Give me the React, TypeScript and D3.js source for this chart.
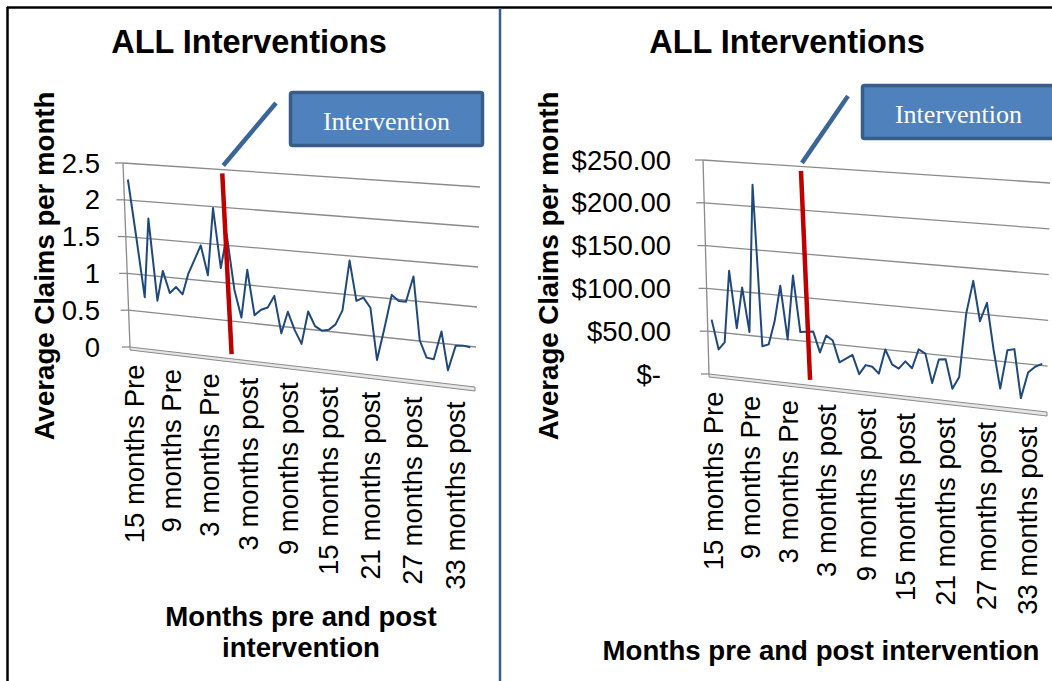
import * as d3 from "d3";

// months relative to the intervention (0 = intervention month)
const months = [
  -15, -14, -13, -12, -11, -10, -9, -8, -7, -6, -5, -4, -3, -2, -1, 0, 1, 2, 3,
  4, 5, 6, 7, 8, 9, 10, 11, 12, 13, 14, 15, 16, 17, 18, 19, 20, 21, 22, 23, 24,
  25, 26, 27, 28, 29, 30, 31, 32, 33, 34, 35,
];

// only every 6th category gets a label
const tickLabels = [
  "15 months Pre",
  "9 months Pre",
  "3 months Pre",
  "3 months post",
  "9 months post",
  "15 months post",
  "21 months post",
  "27 months post",
  "33 months post",
];

const avgClaims = [
  2.28, 1.5, 0.7, 1.77, 0.67, 1.08, 0.79, 0.88, 0.79, 1.08, 1.27, 1.47, 1.08,
  1.98, 1.19, 1.64, 0.92, 0.56, 1.2, 0.61, 0.69, 0.73, 0.89, 0.41, 0.7, 0.47,
  0.3, 0.73, 0.55, 0.5, 0.52, 0.6, 0.79, 1.44, 0.93, 0.98, 0.86, 0.2, 0.61,
  1.05, 0.98, 0.98, 1.31, 0.51, 0.3, 0.29, 0.65, 0.17, 0.49, 0.5, 0.49,
];

const avgCost = [
  64, 30, 39, 123, 57, 105, 54, 225, 39, 42, 69, 111, 50, 124, 60, 61, 62, 39,
  59, 54, 30, 35, 40, 19, 30, 29, 22, 50, 34, 30, 39, 32, 54, 50, 18, 45, 46,
  14, 28, 99, 136, 92, 113, 62, 20, 63, 65, 12, 41, 48, 52,
];

const claimTicks = [0, 0.5, 1, 1.5, 2, 2.5];
const costTicks = [0, 50, 100, 150, 200, 250];

const FONT = "'Liberation Sans', Arial, sans-serif";
const SERIF = "'Liberation Serif', 'Times New Roman', serif";
const GRID = "#8a8a8a";
const LINE = "#1f497d";

type Pt = [number, number];

interface PanelCfg {
  values: number[];
  ticks: number[];
  fmt: (d: number) => string;
  wall: { tl: Pt; tr: Pt; bl: Pt; br: Pt };
  persp: number; // 3d depth: categories get wider towards the right
  tickX: number;
  yTitleX: number;
  titleX: number;
  xTitle: string[];
  xTitleX: number;
  xTitleY: number;
  box: [number, number];
}

const money = d3.format(",.2f");

const panels: PanelCfg[] = [
  {
    values: avgClaims,
    ticks: claimTicks,
    fmt: (d) => String(d),
    wall: { tl: [123, 163], tr: [480, 187], bl: [130, 347], br: [475, 387] },
    persp: -0.08,
    tickX: 100,
    yTitleX: 54,
    titleX: 249,
    xTitle: ["Months pre and post", "intervention"],
    xTitleX: 301,
    xTitleY: 626,
    box: [289, 91],
  },
  {
    values: avgCost,
    ticks: costTicks,
    fmt: (d) => (d === 0 ? "$-" : "$" + money(d)),
    wall: { tl: [703, 160], tr: [1050, 183], bl: [709, 374], br: [1047, 412] },
    persp: -0.06,
    tickX: 671,
    yTitleX: 558,
    titleX: 787,
    xTitle: ["Months pre and post intervention"],
    xTitleX: 821,
    xTitleY: 660,
    box: [861, 84],
  },
];

// bilinear mapping of the back wall: u across, w up, both 0..1
function wallProjector(wall: PanelCfg["wall"]) {
  return (u: number, w: number): Pt => {
    const xl = wall.bl[0] + (wall.tl[0] - wall.bl[0]) * w;
    const yl = wall.bl[1] + (wall.tl[1] - wall.bl[1]) * w;
    const xr = wall.br[0] + (wall.tr[0] - wall.br[0]) * w;
    const yr = wall.br[1] + (wall.tr[1] - wall.br[1]) * w;
    return [xl + (xr - xl) * u, yl + (yr - yl) * u];
  };
}

function Panel({ cfg }: { cfg: PanelCfg }) {
  const proj = wallProjector(cfg.wall);
  const lin = d3
    .scaleLinear()
    .domain([0, months.length - 1])
    .range([0.013, 0.985]);
  const k = cfg.persp;
  const x = (i: number) => {
    const s = lin(i);
    return (s * (1 + k)) / (1 + k * s);
  };
  const y = d3
    .scaleLinear()
    .domain([0, cfg.ticks[cfg.ticks.length - 1]])
    .range([0, 1]);

  const line = d3
    .line<number>()
    .x((d, i) => proj(x(i), y(d))[0])
    .y((d, i) => proj(x(i), y(d))[1]);

  const f0 = proj(0, 0);
  const f1 = proj(1, 0);
  const e1 = proj(0, 1);

  // intervention marker sits at month 0
  const iv = months.indexOf(0);
  const redTop = proj(x(iv - 0.5), 0.98);
  const redBot = proj(x(iv + 0.4), 0.025);

  const [bx, by] = cfg.box;
  const bw = 195;
  const bh = 56;

  return (
    <g>
      <text
        x={cfg.titleX}
        y={53}
        textAnchor="middle"
        fontFamily={FONT}
        fontWeight="bold"
        fontSize={32.5}
      >
        ALL Interventions
      </text>

      {/* y axis title */}
      <text
        transform={`translate(${cfg.yTitleX},266) rotate(-90)`}
        textAnchor="middle"
        fontFamily={FONT}
        fontWeight="bold"
        fontSize={27.6}
      >
        Average Claims per month
      </text>

      {/* floor */}
      <polygon
        points={[f0, f1, [f1[0], f1[1] + 4], [f0[0], f0[1] + 3]]
          .map((p) => p.join(","))
          .join(" ")}
        fill="#e6e6e6"
        stroke={GRID}
        strokeWidth={1}
      />

      {/* gridlines + ticks */}
      {cfg.ticks.map((t) => {
        const a = proj(0, y(t));
        const b = proj(1, y(t));
        return (
          <g key={t}>
            <line
              x1={a[0] - 8}
              y1={a[1]}
              x2={a[0]}
              y2={a[1]}
              stroke={GRID}
              strokeWidth={1.3}
            />
            {t > 0 && (
              <line
                x1={a[0]}
                y1={a[1]}
                x2={b[0]}
                y2={b[1]}
                stroke={GRID}
                strokeWidth={1.3}
              />
            )}
            <text
              x={cfg.tickX + (t === 0 && cfg.ticks === costTicks ? -10 : 0)}
              y={a[1]}
              dy="0.35em"
              textAnchor="end"
              fontFamily={FONT}
              fontSize={27.5}
            >
              {cfg.fmt(t)}
            </text>
          </g>
        );
      })}
      <line
        x1={f0[0]}
        y1={f0[1]}
        x2={e1[0]}
        y2={e1[1]}
        stroke={GRID}
        strokeWidth={1.3}
      />

      {/* series */}
      <path
        d={line(cfg.values) ?? ""}
        fill="none"
        stroke={LINE}
        strokeWidth={2}
        strokeLinejoin="round"
      />

      {/* category labels */}
      {tickLabels.map((lbl, j) => {
        const p = proj(x(j * 6), 0);
        return (
          <text
            key={lbl}
            transform={`translate(${p[0]},${p[1] + 17}) rotate(-90)`}
            textAnchor="end"
            dy="0.35em"
            fontFamily={FONT}
            fontSize={27.5}
          >
            {lbl}
          </text>
        );
      })}

      {/* x axis title */}
      {cfg.xTitle.map((s, i) => (
        <text
          key={s}
          x={cfg.xTitleX}
          y={cfg.xTitleY + i * 31}
          textAnchor="middle"
          fontFamily={FONT}
          fontWeight="bold"
          fontSize={27.6}
        >
          {s}
        </text>
      ))}

      {/* intervention marker + callout */}
      <line
        x1={redTop[0]}
        y1={redTop[1]}
        x2={redBot[0]}
        y2={redBot[1]}
        stroke="#c00000"
        strokeWidth={4.5}
      />
      <line
        x1={redTop[0] + 1}
        y1={redTop[1] - 8}
        x2={bx - 13}
        y2={by + 12}
        stroke="#3b6597"
        strokeWidth={4.5}
      />
      <rect
        x={bx + 1.5}
        y={by + 1.5}
        width={bw - 3}
        height={bh - 3}
        rx={2}
        fill="#4f81bd"
        stroke="#385d8a"
        strokeWidth={3.5}
      />
      <text
        x={bx + bw / 2}
        y={by + 39}
        textAnchor="middle"
        fill="#fff"
        fontFamily={SERIF}
        fontSize={26}
      >
        Intervention
      </text>
    </g>
  );
}

export default function App() {
  return (
    <svg
      width={1052}
      height={681}
      style={{ position: "absolute", left: 0, top: 0, background: "#fff" }}
    >
      <rect x={0} y={0} width={1052} height={681} fill="#fff" />
      {panels.map((p, i) => (
        <Panel key={i} cfg={p} />
      ))}
      {/* frame */}
      <line x1={7} y1={7.5} x2={1052} y2={7.5} stroke="#000" strokeWidth={2.5} />
      <line x1={7.5} y1={7} x2={7.5} y2={681} stroke="#000" strokeWidth={2.5} />
      <line x1={500} y1={8} x2={500} y2={681} stroke="#365f91" strokeWidth={2.5} />
    </svg>
  );
}
